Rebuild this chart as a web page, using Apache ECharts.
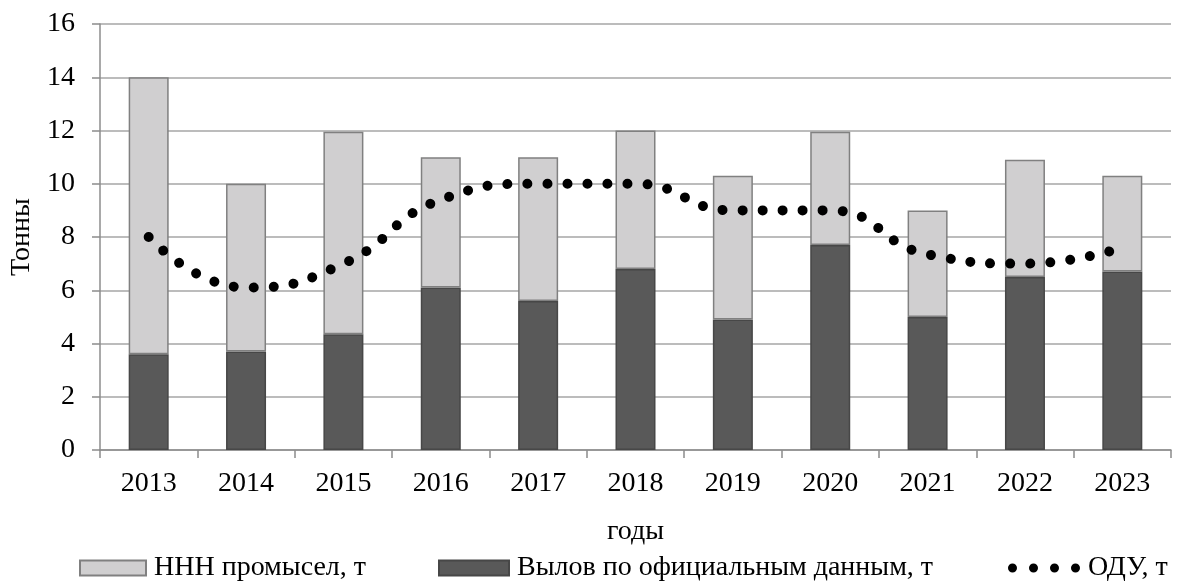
<!DOCTYPE html>
<html>
<head>
<meta charset="utf-8">
<script src="https://cdn.jsdelivr.net/npm/echarts@6/dist/echarts.min.js"></script>
<style>
  html, body { margin: 0; padding: 0; background: #fff; }
  #chart { width: 1180px; height: 583px; }
</style>
</head>
<body>
<div id="chart"></div>
<script>
// years on the x axis
const years = ['2013', '2014', '2015', '2016', '2017', '2018', '2019', '2020', '2021', '2022', '2023'];
// official catch, t (bottom of the stack)
const officialCatch = [3.6, 3.7, 4.35, 6.1, 5.6, 6.8, 4.9, 7.7, 5.0, 6.5, 6.7];
// IUU fishing, t (top of the stack)
const iuuCatch = [10.4, 6.3, 7.6, 4.9, 5.4, 5.2, 5.4, 4.25, 4.0, 4.4, 3.6];
// TAC (ОДУ), t
const tac = [8.0, 6.1, 7.0, 9.4, 10.0, 10.0, 9.0, 9.0, 7.35, 7.0, 7.6];

const FONT = 'Liberation Serif';
const gridColor = '#a6a6a6';
const axisColor = '#8c8c8c';
// four dots for the dotted-line legend key
const dotsIcon = 'path://M0,4.5a4.5,4.5 0 1,0 9,0a4.5,4.5 0 1,0 -9,0z' +
  'M21,4.5a4.5,4.5 0 1,0 9,0a4.5,4.5 0 1,0 -9,0z' +
  'M42,4.5a4.5,4.5 0 1,0 9,0a4.5,4.5 0 1,0 -9,0z' +
  'M63,4.5a4.5,4.5 0 1,0 9,0a4.5,4.5 0 1,0 -9,0z';

const chart = echarts.init(document.getElementById('chart'));

const legendBase = {
  top: 554,
  padding: 0,
  itemWidth: 66,
  itemHeight: 15,
  icon: 'rect',
  textStyle: { fontFamily: FONT, fontSize: 28, color: '#000', padding: [0, 0, 0, 3] },
  selectedMode: false,
};

chart.setOption({
  animation: false,
  grid: { left: 100, right: 9, top: 24, bottom: 133 },
  legend: [
    Object.assign({}, legendBase, { left: 79, data: ['ННН промысел, т'] }),
    Object.assign({}, legendBase, { left: 438, itemWidth: 70, data: ['Вылов по официальным данным, т'] }),
    Object.assign({}, legendBase, {
      left: 1008, itemWidth: 72, itemHeight: 9,
      data: [{ name: 'ОДУ, т', icon: dotsIcon }],
    }),
  ],
  xAxis: {
    type: 'category',
    data: years,
    name: 'годы',
    nameLocation: 'middle',
    nameGap: 68,
    nameTextStyle: { fontFamily: FONT, fontSize: 28, color: '#000' },
    axisLine: { lineStyle: { color: axisColor, width: 1.5 } },
    axisTick: { show: true, length: 8, lineStyle: { color: axisColor, width: 1.5 } },
    axisLabel: { fontFamily: FONT, fontSize: 28, color: '#000', margin: 20 },
  },
  yAxis: {
    type: 'value',
    min: 0,
    max: 16,
    interval: 2,
    name: 'Тонны',
    nameLocation: 'middle',
    nameRotate: 90,
    nameGap: 62,
    nameTextStyle: { fontFamily: FONT, fontSize: 28, color: '#000' },
    axisLine: { show: true, lineStyle: { color: axisColor, width: 1.5 } },
    axisTick: { show: true, length: 8, lineStyle: { color: axisColor, width: 1.5 } },
    axisLabel: { fontFamily: FONT, fontSize: 28, color: '#000', margin: 25 },
    splitLine: { lineStyle: { color: gridColor, width: 1.5 } },
  },
  series: [
    {
      name: 'Вылов по официальным данным, т',
      type: 'bar',
      stack: 'catch',
      barWidth: 40,
      data: officialCatch,
      itemStyle: { color: '#595959', borderColor: '#474747', borderWidth: 1.5 },
    },
    {
      name: 'ННН промысел, т',
      type: 'bar',
      stack: 'catch',
      barWidth: 40,
      data: iuuCatch,
      itemStyle: { color: '#d0cfd0', borderColor: '#808080', borderWidth: 1.5 },
    },
    {
      name: 'ОДУ, т',
      type: 'line',
      data: tac,
      smooth: 0.5,
      symbol: 'none',
      z: 5,
      lineStyle: { color: '#000', width: 10, type: [0.01, 20], cap: 'round' },
      itemStyle: { color: '#000' },
    },
  ],
});
</script>
</body>
</html>
